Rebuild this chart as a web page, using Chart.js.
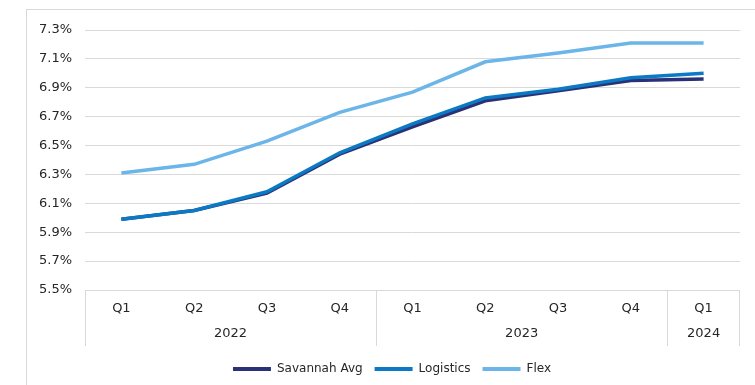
<!DOCTYPE html>
<html>
<head>
<meta charset="utf-8">
<script src="https://cdn.jsdelivr.net/npm/chart.js@4"></script>
<style>
    body { margin: 0; background: #fff; }
    #wrap { position: relative; width: 755px; height: 385px; overflow: hidden; }
    #frame { position: absolute; left: 26px; top: 9px; width: 800px; height: 400px; border: 1px solid #d9d9d9; }
    #chart { position: absolute; left: 0; top: 0; }
</style>
</head>
<body>
<div id="wrap">
    <div id="frame"></div>
    <canvas id="chart" width="755" height="385"></canvas>
</div>
<script>
// data
const quarters = ["Q1", "Q2", "Q3", "Q4", "Q1", "Q2", "Q3", "Q4", "Q1"];
const years = ["2022", "2022", "2022", "2022", "2023", "2023", "2023", "2023", "2024"];
const savannahAvg = [5.99, 6.05, 6.17, 6.44, 6.63, 6.81, 6.88, 6.95, 6.96];
const logistics = [5.99, 6.05, 6.18, 6.45, 6.65, 6.83, 6.89, 6.97, 7.00];
const flex = [6.31, 6.37, 6.53, 6.73, 6.87, 7.08, 7.14, 7.21, 7.21];

const FONT = "'DejaVu Sans', sans-serif";
const TEXT = "#262626";
const GRID = "#d9d9d9";
const AXIS_H = 61;   // tinggi area sumbu x
const SEP_H = 56;    // panjang garis pemisah tahun
const LEGEND_SHIFT = 22;

/** label tahun + garis pemisah di bawah sumbu x */
const yearGroups = {
    id: "yearGroups",
    afterLayout(chart) {
        // geser legend sedikit ke kanan seperti di gambar
        if (chart.legend) {
            chart.legend.left += LEGEND_SHIFT;
            chart.legend.right += LEGEND_SHIFT;
        }
    },
    afterDraw(chart) {
        const x = chart.scales.x;
        const { ctx, chartArea } = chart;
        const top = chartArea.bottom;
        const bottom = top + SEP_H;

        const groups = [];
        years.forEach((y, i) => {
            const last = groups[groups.length - 1];
            if (last && last.year === y) last.end = i;
            else groups.push({ year: y, start: i, end: i });
        });

        ctx.save();
        ctx.strokeStyle = GRID;
        ctx.lineWidth = 1;
        ctx.fillStyle = TEXT;
        ctx.font = "13px " + FONT;
        ctx.textAlign = "center";
        ctx.textBaseline = "middle";

        groups.forEach((g, gi) => {
            const left = g.start === 0 ? x.left
                : (x.getPixelForValue(g.start - 1) + x.getPixelForValue(g.start)) / 2;
            ctx.beginPath();
            ctx.moveTo(Math.round(left) + 0.5, top);
            ctx.lineTo(Math.round(left) + 0.5, bottom);
            ctx.stroke();
            if (gi === groups.length - 1) {
                ctx.beginPath();
                ctx.moveTo(Math.round(x.right) - 0.5, top);
                ctx.lineTo(Math.round(x.right) - 0.5, bottom);
                ctx.stroke();
            }
            const cx = (x.getPixelForValue(g.start) + x.getPixelForValue(g.end)) / 2;
            ctx.fillText(g.year, cx, top + 44);
        });
        ctx.restore();
    }
};

const line = (label, data, color, order) => ({
    label,
    data,
    borderColor: color,
    backgroundColor: color,
    borderWidth: 3.5,
    pointRadius: 0,
    tension: 0,
    order
});

new Chart(document.getElementById("chart"), {
    type: "line",
    data: {
        labels: quarters,
        datasets: [
            line("Savannah Avg", savannahAvg, "#2b3176", 3),
            line("Logistics", logistics, "#0b79c3", 2),
            line("Flex", flex, "#6bb5e8", 1)
        ]
    },
    options: {
        responsive: false,
        animation: false,
        layout: { padding: { top: 30, right: 15, left: 0, bottom: 0 } },
        scales: {
            y: {
                min: 5.5,
                max: 7.3,
                afterFit: s => { s.width = 85; },
                ticks: {
                    stepSize: 0.2,
                    padding: 13,
                    color: TEXT,
                    font: { family: FONT, size: 13 },
                    callback: v => v.toFixed(1) + "%"
                },
                grid: { color: GRID, drawTicks: false },
                border: { display: false }
            },
            x: {
                offset: true,
                afterFit: s => { s.height = AXIS_H; },
                ticks: {
                    padding: 3,
                    color: TEXT,
                    maxRotation: 0,
                    font: { family: FONT, size: 13 }
                },
                grid: { display: false },
                border: { display: false }
            }
        },
        plugins: {
            legend: {
                position: "bottom",
                labels: {
                    boxWidth: 38,
                    boxHeight: 4,
                    padding: 12,
                    color: TEXT,
                    font: { family: FONT, size: 12 },
                    sort: (a, b) => a.datasetIndex - b.datasetIndex,
                    generateLabels: chart =>
                        Chart.defaults.plugins.legend.labels.generateLabels(chart)
                            .map(l => ({ ...l, lineWidth: 0 }))
                }
            },
            tooltip: { enabled: false }
        }
    },
    plugins: [yearGroups]
});
</script>
</body>
</html>
